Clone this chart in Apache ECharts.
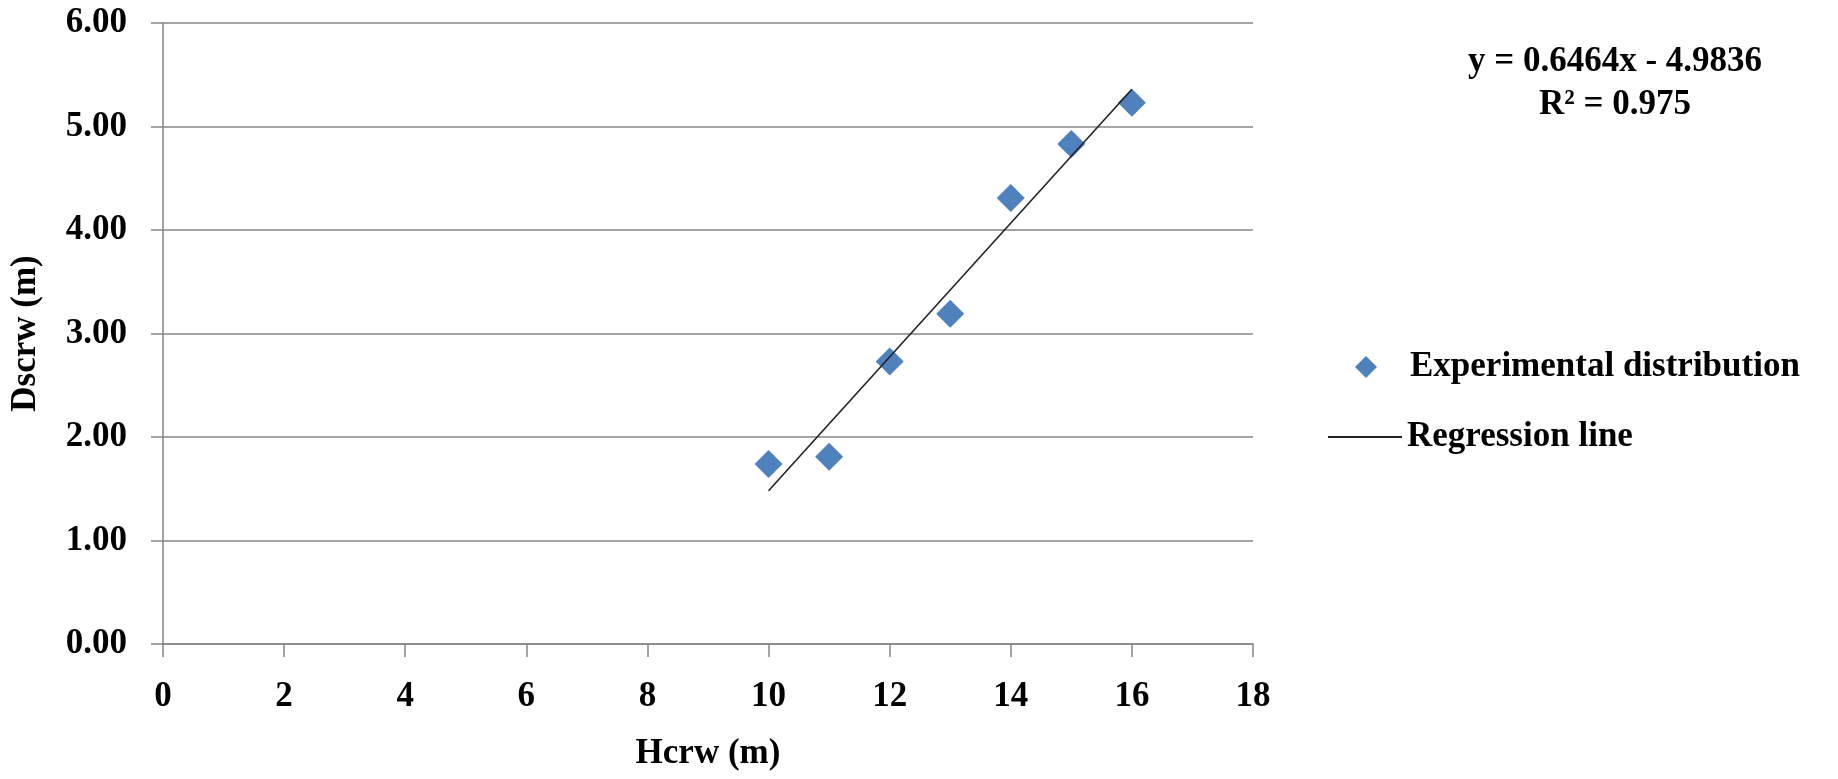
<!DOCTYPE html>
<html>
<head>
<meta charset="utf-8">
<title>Dscrw vs Hcrw</title>
<script src="https://cdn.jsdelivr.net/npm/echarts@6/dist/echarts.min.js"></script>
<style>
html,body{margin:0;padding:0;background:#fff;}
#main{width:1838px;height:779px;}
</style>
</head>
<body>
<div id="main"></div>
<script>
// measured points (Hcrw, Dscrw)
var hcrw=[10,11,12,13,14,15,16];
var dscrw=[1.74,1.81,2.73,3.19,4.31,4.83,5.23];
// regression line ends
var regX=[10,16];
var regY=[1.48,5.36];
var eqLines=['y = 0.6464x - 4.9836','R\u00b2 = 0.975'];

var fam='"Liberation Serif", serif';
var fs=35;
var gridCol='#868686';

var pts=[],reg=[];
for(var i=0;i<hcrw.length;i++) pts.push([hcrw[i],dscrw[i]]);
for(var i=0;i<regX.length;i++) reg.push([regX[i],regY[i]]);

function txt(extra){
	var o={fontFamily:fam,fontSize:fs,fontWeight:'bold',color:'#000'};
	for(var k in extra) o[k]=extra[k];
	return o;
}

var myChart=echarts.init(document.getElementById('main'));
myChart.setOption({
	animation:false,
	textStyle:{fontFamily:fam},
	grid:{left:154,right:585,top:23,bottom:135},
	xAxis:{
		type:'value',min:0,max:18,interval:2,
		name:'Hcrw (m)',nameLocation:'middle',nameGap:92,
		nameTextStyle:txt({}),
		axisLine:{show:true,lineStyle:{color:gridCol,width:1.5}},
		axisTick:{show:true,length:13,lineStyle:{color:gridCol,width:1.5}},
		axisLabel:txt({margin:35}),
		splitLine:{show:false}
	},
	yAxis:{
		type:'value',min:0,max:6,interval:1,
		name:'Dscrw (m)',nameLocation:'middle',nameGap:120,nameRotate:90,
		nameTextStyle:txt({}),
		axisLine:{show:true,lineStyle:{color:gridCol,width:1.5}},
		axisTick:{show:true,length:12,lineStyle:{color:gridCol,width:1.5}},
		axisLabel:txt({margin:36,formatter:function(v){return v.toFixed(2);}}),
		splitLine:{show:true,lineStyle:{color:gridCol,width:1.5}}
	},
	legend:[
		{
			orient:'vertical',left:1355,top:347,padding:0,
			itemWidth:22,itemHeight:22,
			textStyle:txt({lineHeight:40,padding:[0,0,0,28]}),
			data:[{name:'Experimental distribution',icon:'diamond'}]
		},
		{
			orient:'vertical',left:1328,top:417,padding:0,
			itemWidth:74,itemHeight:2,
			textStyle:txt({lineHeight:40}),
			data:[{name:'Regression line',icon:'rect'}]
		}
	],
	graphic:[
		{type:'text',x:1615,y:62,style:{text:eqLines[0],fill:'#000',font:'bold '+fs+'px '+fam,textAlign:'center',textVerticalAlign:'middle'}},
		{type:'text',x:1615,y:105,style:{text:eqLines[1],fill:'#000',font:'bold '+fs+'px '+fam,textAlign:'center',textVerticalAlign:'middle'}}
	],
	series:[
		{
			name:'Experimental distribution',type:'scatter',
			symbol:'diamond',symbolSize:28,
			itemStyle:{color:'#4F81BD',opacity:1},
			data:pts,z:3
		},
		{
			name:'Regression line',type:'line',
			symbol:'none',
			lineStyle:{color:'#222',width:1.6},
			itemStyle:{color:'#222'},
			data:reg,z:4
		}
	]
});
</script>
</body>
</html>
